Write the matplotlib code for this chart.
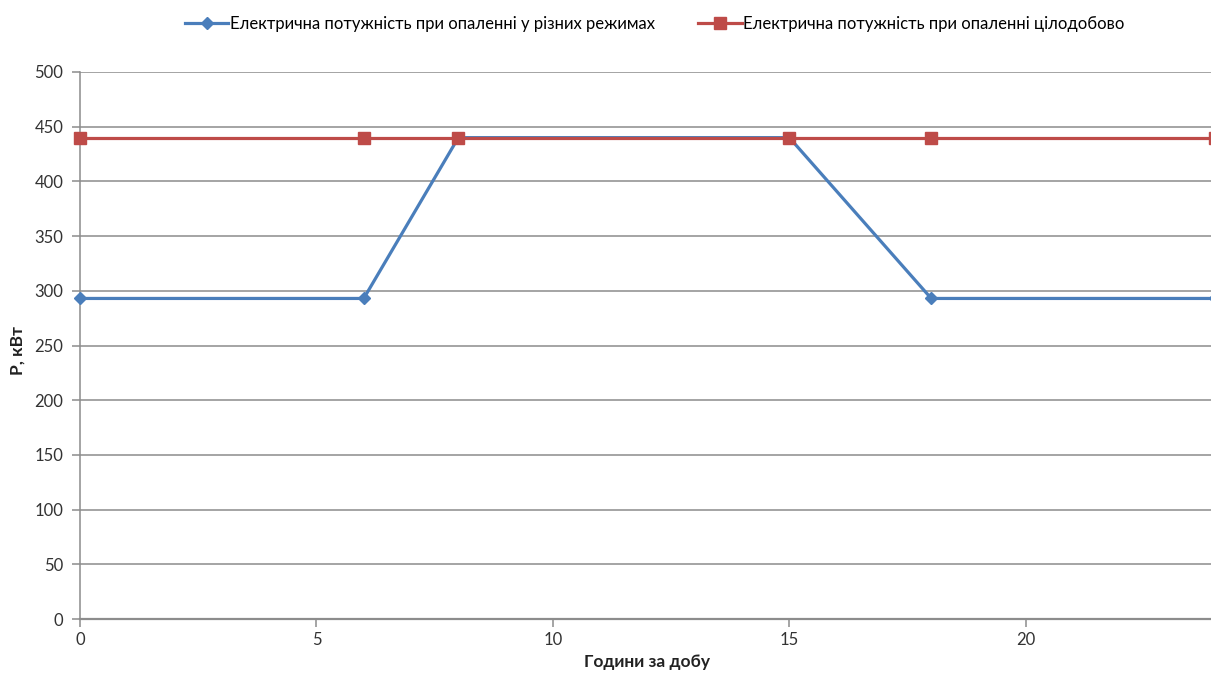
import matplotlib
matplotlib.use("Agg")
import matplotlib.pyplot as plt

hours = [0, 6, 8, 15, 18, 24]
power_modes = [293, 293, 440, 440, 293, 293]
power_constant = [440, 440, 440, 440, 440, 440]
label_modes = "Електрична потужність при опаленні у різних режимах"
label_constant = "Електрична потужність при опаленні цілодобово"
xlabel = "Години за добу"
ylabel = "P, кВт"

plt.rcParams['font.family'] = ['Lato', 'DejaVu Sans']

fig = plt.figure(figsize=(12.11, 6.73), dpi=100)
ax = fig.add_axes([80/1211, 1-619/673, (1215-80)/1211, (619-72)/673])

blue = "#4a7ebb"
red = "#be4b48"
ax.plot(hours, power_modes, color=blue, lw=2.3, marker="D", ms=6.5,
        label=label_modes, zorder=3, clip_on=False)
ax.plot(hours, power_constant, color=red, lw=2.3, marker="s", ms=9,
        label=label_constant, zorder=4, clip_on=False)

ax.set_xlim(0, 24)
ax.set_ylim(0, 500)
ax.set_xticks([0, 5, 10, 15, 20])
ax.set_yticks(range(0, 501, 50))
ax.grid(axis="y", color="#8c8c8c", lw=1.1)
ax.set_axisbelow(True)
for s in ["top", "right"]:
    ax.spines[s].set_visible(False)
for s in ["left", "bottom"]:
    ax.spines[s].set_color("#8c8c8c")
    ax.spines[s].set_linewidth(1.1)
ax.spines["bottom"].set_linewidth(1.6)
ax.tick_params(axis="both", colors="#8c8c8c", labelcolor="#333333",
               labelsize=12, length=6, width=1.1)
ax.tick_params(axis="y", pad=6)
ax.set_xlabel(xlabel, fontsize=12.5, fontweight="bold", color="#222222", labelpad=4)
ax.set_ylabel(ylabel, fontsize=12.5, fontweight="bold", color="#222222")
ax.yaxis.set_label_coords(-54/1135, 0.49)

fig.legend(loc="center", bbox_to_anchor=(655/1211, 1-24/673), ncol=2,
           frameon=False, fontsize=12, handlelength=2.6, columnspacing=2.6,
           handletextpad=0.1)

fig.savefig("out.png", dpi=100)
